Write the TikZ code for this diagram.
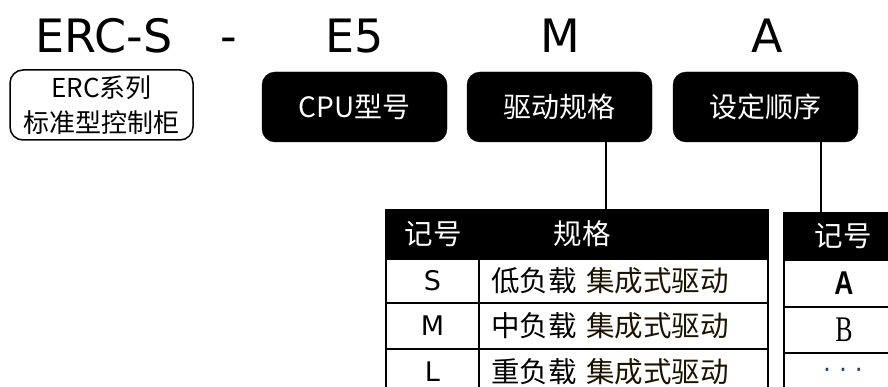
\documentclass[tikz,border=0pt]{standalone}
\usepackage{fontspec}
\setmainfont{DejaVu Sans}
\newfontfamily\cjk{Noto Sans CJK SC}
\newfontfamily\narrowA{Liberation Sans}[FakeStretch=0.8]
\newfontfamily\narrowB{Liberation Serif}[FakeStretch=0.72]
\usetikzlibrary{calc}
\definecolor{darkbrown}{RGB}{28,18,0}
\definecolor{dotblue}{RGB}{40,60,110}
\begin{document}
\begin{tikzpicture}[x=1pt,y=-1pt,
  toplabel/.style={anchor=base,inner sep=0pt,font=\fontsize{46}{54}\selectfont},
  bbox/.style={fill=black,draw=black,rounded corners=13pt,minimum width=185pt,minimum height=70pt,inner sep=0pt,text=white,font=\cjk\fontsize{28}{34}\selectfont},
  wbox/.style={draw=black,line width=1.5pt,rounded corners=13pt,minimum width=183pt,minimum height=70pt,inner sep=0pt,align=center,font=\cjk\fontsize{26}{35}\selectfont},
  hcell/.style={fill=black,draw=black,line width=2pt,inner sep=0pt,anchor=north west},
  htext/.style={text=white,inner sep=0pt,font=\cjk\fontsize{28.5}{34}\selectfont},
  cell/.style={draw=black,line width=2pt,inner sep=0pt,anchor=north west,font=\fontsize{27}{32}\selectfont},
  spec/.style={draw=black,line width=2pt,inner ysep=0pt,inner xsep=12pt,text width=265pt,align=left,anchor=north west,font=\cjk\fontsize{28.5}{32}\selectfont},
  conn/.style={draw=black,line width=1.5pt}
]
\useasboundingbox (0,0) rectangle (888,387);

% top code
\node[toplabel] (pERC) at (104,53) {ERC-S};
\node[toplabel] (pdash) at (229,53) {-};
\node[toplabel] (pE5) at (355,53) {E5};
\node[toplabel] (pM) at (560,53) {M};
\node[toplabel] (pA) at (767,53) {A};

% boxes
\node[wbox] (series) at (101.5,105) {ERC系列\\标准型控制柜};
\node[bbox] (cpu) at (354.5,107) {CPU型号};
\node[bbox] (drive) at (559.5,107) {驱动规格};
\node[bbox] (order) at (765.5,107) {设定顺序};

% table 1
\node[hcell,minimum width=382pt,minimum height=49pt] (t1h) at (385,209) {};
\node[htext] (t1hA) at (433,234) {记号};
\node[htext] (t1hB) at (582,234) {规格};
\node[cell,minimum width=93pt,minimum height=44pt] (r1a) at (385,258) {S};
\node[spec,minimum height=44pt] (r1b) at (478,258) {低负载 \textcolor{darkbrown}{集成式驱动}};
\node[cell,minimum width=93pt,minimum height=46pt] (r2a) at (385,302) {M};
\node[spec,minimum height=46pt] (r2b) at (478,302) {中负载 \textcolor{darkbrown}{集成式驱动}};
\node[cell,minimum width=93pt,minimum height=46pt] (r3a) at (385,348) {L};
\node[spec,minimum height=46pt] (r3b) at (478,348) {重负载 \textcolor{darkbrown}{集成式驱动}};
\draw[line width=2pt] (r3a.south west) -- ++(0,20);
\draw[line width=2pt] (r3a.south east) -- ++(0,20);
\draw[line width=2pt] (r3b.south east) -- ++(0,20);

% table 2
\node[hcell,minimum width=120pt,minimum height=47pt] (t2h) at (783,212) {};
\node[htext] (t2hA) at (843,236) {记号};
\node[cell,minimum width=120pt,minimum height=47pt,font=\narrowA\bfseries\fontsize{33}{36}\selectfont] (s1) at (783,259) {A};
\node[cell,minimum width=120pt,minimum height=46pt,font=\narrowB\fontsize{36}{40}\selectfont] (s2) at (783,306) {B};
\node[cell,minimum width=120pt,minimum height=50pt] (s3) at (783,352) {};
\node[text=dotblue,inner sep=0pt,font=\fontsize{25}{30}\selectfont] (s3t) at (843,373) {· · ·};

% connectors
\coordinate (d1) at ($(drive.south west)!0.75!(drive.south east)$);
\draw[conn] (d1) -- (d1 |- t1h.north);
\coordinate (d2) at ($(order.south west)!0.8!(order.south east)$);
\draw[conn] (d2) -- (d2 |- t2h.north);
\end{tikzpicture}
\end{document}
